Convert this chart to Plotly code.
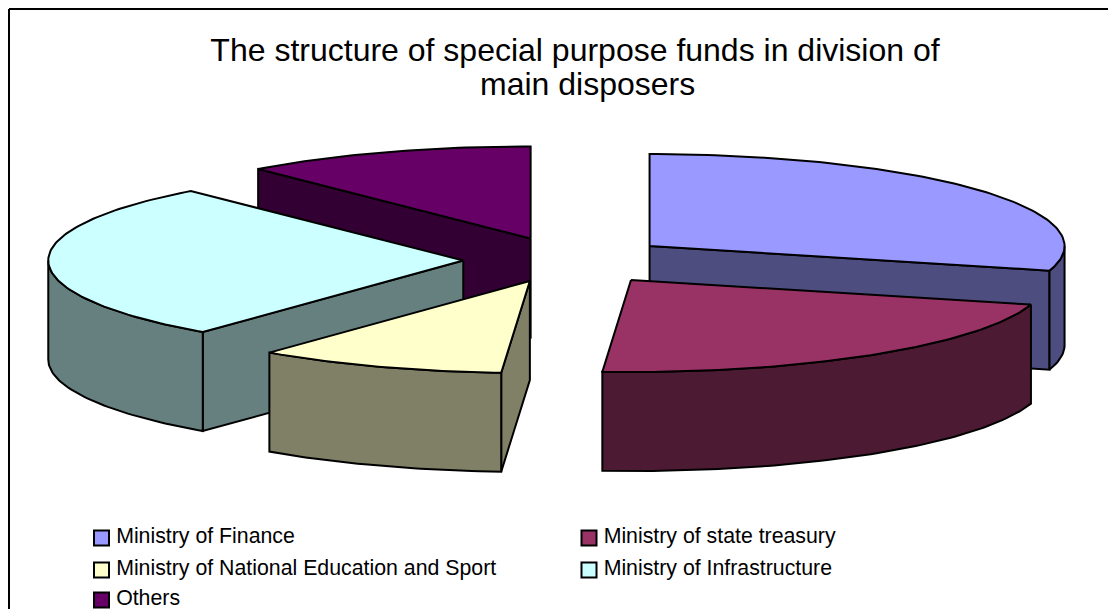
import math
import plotly.graph_objects as go

# Share of special purpose funds per disposer, in percent
categories = ["Ministry of Finance", "Ministry of state treasury",
              "Ministry of National Education and Sport", "Ministry of Infrastructure", "Others"]
shares = [29.3, 21.8, 9.7, 27.8, 11.4]
explosion = [0.25, 0.267, 0.245, 0.25, 0.25]
top_colors = ["#9999FF", "#993366", "#FFFFCC", "#CCFFFF", "#660066"]
side_colors = ["#4D4D80", "#4D1A33", "#808066", "#668080", "#330033"]
title_lines = ["The structure of special purpose funds in division of", "main disposers"]

# Projection of the tilted pie on the pixel-sized axes
CX, CY = 567, 260
RX, RY = 415, 92
DEPTH = 99
STEP = 1.0
W, H = 1108, 609
FONT = "Liberation Sans, Arial, sans-serif"

LEGEND_X = [101.5, 589, 101.5, 589, 101.5]
LEGEND_Y = [538, 538, 570, 570, 600]


def rim(cx, cy, deg):
    a = math.radians(deg)
    return cx + RX * math.sin(a), cy - RY * math.cos(a)


def arc(cx, cy, start, end):
    n = max(2, int(abs(end - start) / STEP) + 1)
    return [rim(cx, cy, start + (end - start) * i / (n - 1)) for i in range(n)]


def face(points, color, name):
    xs = [p[0] for p in points] + [points[0][0]]
    ys = [p[1] for p in points] + [points[0][1]]
    return go.Scatter(x=xs, y=ys, mode="lines", fill="toself", fillcolor=color,
                      line=dict(color="black", width=2), name=name,
                      showlegend=False, hoverinfo="name")


def drop(points):
    return [(x, y + DEPTH) for x, y in points]


slices = []
total = sum(shares)
angle = 0.0
for i, share in enumerate(shares):
    start = angle
    end = angle + 360 * share / total
    angle = end
    mid = math.radians((start + end) / 2)
    ax = CX + explosion[i] * RX * math.sin(mid)
    ay = CY - explosion[i] * RY * math.cos(mid)
    slices.append((ay, i, ax, start, end))

fig = go.Figure()

# Rear slices are painted first so that nearer ones cover them
for ay, i, ax, start, end in sorted(slices):
    name = categories[i]
    side = side_colors[i]
    apex = (ax, ay)
    if math.sin(math.radians(start)) < -1e-9:
        edge = [apex, rim(ax, ay, start)]
        fig.add_trace(face(edge + drop(edge)[::-1], side, name))
    if math.sin(math.radians(end)) > 1e-9:
        edge = [apex, rim(ax, ay, end)]
        fig.add_trace(face(edge + drop(edge)[::-1], side, name))
    low, high = max(start, 90), min(end, 270)
    if low < high:
        curve = arc(ax, ay, low, high)
        fig.add_trace(face(curve + drop(curve)[::-1], side, name))
    fig.add_trace(face([apex] + arc(ax, ay, start, end), top_colors[i], name))

# Legend keys with their labels; a thin space sets the gap after each key
for i, name in enumerate(categories):
    fig.add_trace(go.Scatter(
        x=[LEGEND_X[i]], y=[LEGEND_Y[i]], mode="markers+text", text=["\u2009" + name],
        textposition="middle right",
        textfont=dict(family=FONT, size=21.3, color="black"),
        marker=dict(symbol="square", size=15, color=top_colors[i], line=dict(color="black", width=2)),
        showlegend=False, hoverinfo="skip", cliponaxis=False))

fig.update_layout(
    width=W, height=H, margin=dict(l=0, r=0, t=0, b=0),
    paper_bgcolor="white", plot_bgcolor="white", showlegend=False,
    title=dict(text=title_lines[0], x=575 / W, xanchor="center", y=1 - 50 / H, yanchor="middle",
               font=dict(family=FONT, size=32, color="black")),
    annotations=[dict(text=title_lines[1], xref="x", yref="y", x=587, y=84, showarrow=False,
                      xanchor="center", yanchor="middle",
                      font=dict(family=FONT, size=32, color="black"))],
    xaxis=dict(range=[0, W], visible=False, fixedrange=True),
    yaxis=dict(range=[H, 0], visible=False, fixedrange=True),
    shapes=[
        dict(type="line", xref="x", yref="y", x0=9, y0=9, x1=W, y1=9, line=dict(color="black", width=2)),
        dict(type="line", xref="x", yref="y", x0=9, y0=9, x1=9, y1=H, line=dict(color="black", width=2)),
    ],
)

fig.write_html("out.html")
